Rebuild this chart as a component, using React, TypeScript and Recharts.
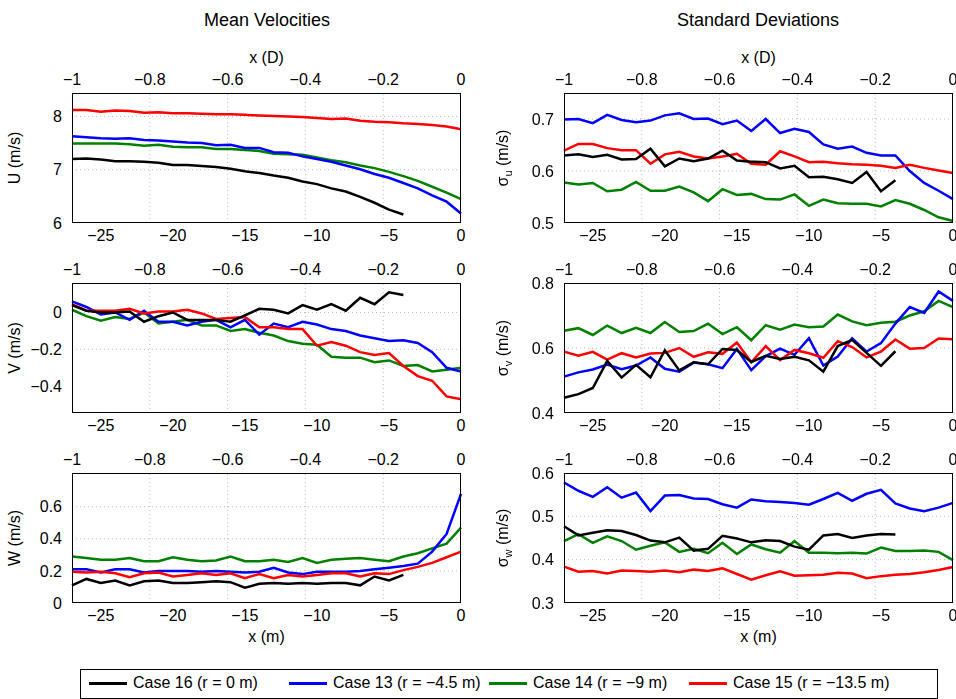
import React from 'react';
import { LineChart, Line, XAxis, YAxis, ReferenceLine } from 'recharts';

// x positions in metres (D = 27 m)
const xs = [-27, -26, -25, -24, -23, -22, -21, -20, -19, -18, -17, -16, -15, -14, -13, -12, -11, -10, -9, -8, -7, -6, -5, -4, -3, -2, -1, 0];
const bottomTicks = [-25, -20, -15, -10, -5, 0];
const topTicks = [-27, -21.6, -16.2, -10.8, -5.4, 0];

const uBlack = [7.2, 7.21, 7.19, 7.16, 7.16, 7.15, 7.13, 7.09, 7.09, 7.07, 7.05, 7.02, 6.97, 6.94, 6.89, 6.85, 6.78, 6.73, 6.65, 6.59, 6.49, 6.38, 6.25, 6.16];
const uBlue = [7.63, 7.61, 7.59, 7.58, 7.59, 7.56, 7.55, 7.53, 7.51, 7.5, 7.46, 7.47, 7.41, 7.41, 7.33, 7.32, 7.25, 7.2, 7.15, 7.08, 7.01, 6.92, 6.85, 6.75, 6.65, 6.52, 6.4, 6.18];
const uGreen = [7.49, 7.49, 7.49, 7.49, 7.48, 7.45, 7.47, 7.43, 7.42, 7.42, 7.39, 7.39, 7.37, 7.35, 7.3, 7.29, 7.28, 7.23, 7.18, 7.14, 7.08, 7.03, 6.96, 6.88, 6.79, 6.68, 6.57, 6.45];
const uRed = [8.12, 8.12, 8.09, 8.11, 8.1, 8.07, 8.08, 8.06, 8.06, 8.05, 8.04, 8.04, 8.03, 8.02, 8.01, 8.0, 7.99, 7.97, 7.95, 7.96, 7.92, 7.9, 7.89, 7.87, 7.86, 7.84, 7.81, 7.76];

const vBlack = [0.04, 0.01, 0.0, 0.0, 0.005, -0.05, -0.02, 0.0, -0.04, -0.04, -0.04, -0.05, -0.015, 0.02, 0.015, -0.005, 0.04, 0.015, 0.045, 0.01, 0.08, 0.045, 0.11, 0.095];
const vBlue = [0.06, 0.03, -0.01, 0.0, -0.04, 0.01, -0.05, -0.05, -0.07, -0.05, -0.04, -0.08, -0.04, -0.12, -0.06, -0.08, -0.05, -0.065, -0.09, -0.1, -0.125, -0.14, -0.155, -0.15, -0.165, -0.215, -0.3, -0.32];
const vGreen = [0.015, -0.02, -0.045, -0.025, -0.035, 0.0, -0.06, -0.05, -0.04, -0.07, -0.07, -0.1, -0.09, -0.11, -0.125, -0.155, -0.17, -0.175, -0.24, -0.245, -0.245, -0.27, -0.26, -0.29, -0.285, -0.32, -0.31, -0.3];
const vRed = [0.045, 0.01, 0.01, 0.01, 0.02, -0.005, 0.005, 0.005, 0.015, -0.005, -0.035, -0.03, -0.025, -0.08, -0.08, -0.09, -0.09, -0.18, -0.16, -0.18, -0.215, -0.23, -0.22, -0.29, -0.345, -0.37, -0.455, -0.47];

const wBlack = [0.11, 0.15, 0.125, 0.14, 0.11, 0.135, 0.14, 0.125, 0.125, 0.13, 0.135, 0.13, 0.095, 0.12, 0.125, 0.12, 0.125, 0.12, 0.125, 0.125, 0.11, 0.165, 0.14, 0.175];
const wBlue = [0.21, 0.21, 0.19, 0.21, 0.21, 0.19, 0.2, 0.2, 0.2, 0.195, 0.2, 0.195, 0.19, 0.195, 0.22, 0.19, 0.18, 0.195, 0.195, 0.195, 0.2, 0.21, 0.22, 0.23, 0.245, 0.32, 0.43, 0.68];
const wGreen = [0.29, 0.28, 0.27, 0.27, 0.28, 0.26, 0.26, 0.285, 0.27, 0.26, 0.265, 0.29, 0.26, 0.26, 0.27, 0.255, 0.28, 0.25, 0.27, 0.275, 0.28, 0.27, 0.26, 0.29, 0.31, 0.34, 0.37, 0.47];
const wRed = [0.195, 0.19, 0.195, 0.185, 0.16, 0.185, 0.19, 0.165, 0.175, 0.185, 0.175, 0.185, 0.155, 0.18, 0.155, 0.175, 0.165, 0.175, 0.185, 0.185, 0.165, 0.185, 0.18, 0.205, 0.225, 0.25, 0.285, 0.32];

const suBlack = [0.63, 0.632, 0.627, 0.631, 0.622, 0.623, 0.643, 0.609, 0.624, 0.619, 0.624, 0.639, 0.62, 0.618, 0.617, 0.605, 0.61, 0.588, 0.589, 0.584, 0.577, 0.598, 0.561, 0.582];
const suBlue = [0.699, 0.7, 0.692, 0.708, 0.698, 0.694, 0.697, 0.707, 0.711, 0.7, 0.701, 0.69, 0.697, 0.677, 0.7, 0.673, 0.681, 0.675, 0.651, 0.643, 0.647, 0.635, 0.63, 0.63, 0.6, 0.577, 0.562, 0.546];
const suGreen = [0.578, 0.574, 0.577, 0.561, 0.564, 0.579, 0.562, 0.562, 0.57, 0.559, 0.542, 0.565, 0.554, 0.556, 0.546, 0.545, 0.555, 0.533, 0.545, 0.538, 0.537, 0.537, 0.532, 0.544, 0.537, 0.525, 0.511, 0.504];
const suRed = [0.639, 0.652, 0.652, 0.644, 0.64, 0.64, 0.614, 0.632, 0.637, 0.628, 0.624, 0.628, 0.633, 0.614, 0.612, 0.638, 0.628, 0.617, 0.618, 0.615, 0.613, 0.612, 0.61, 0.606, 0.612, 0.606, 0.601, 0.596];

const svBlack = [0.447, 0.458, 0.477, 0.56, 0.509, 0.548, 0.51, 0.593, 0.531, 0.556, 0.55, 0.597, 0.594, 0.557, 0.576, 0.566, 0.573, 0.562, 0.527, 0.606, 0.625, 0.585, 0.545, 0.59];
const svBlue = [0.512, 0.525, 0.534, 0.549, 0.535, 0.546, 0.571, 0.536, 0.527, 0.555, 0.55, 0.538, 0.597, 0.532, 0.575, 0.598, 0.579, 0.63, 0.546, 0.574, 0.63, 0.589, 0.615, 0.675, 0.726, 0.708, 0.774, 0.745];
const svGreen = [0.653, 0.661, 0.64, 0.669, 0.646, 0.662, 0.646, 0.68, 0.649, 0.652, 0.675, 0.643, 0.664, 0.624, 0.67, 0.656, 0.672, 0.664, 0.666, 0.703, 0.682, 0.67, 0.678, 0.681, 0.7, 0.713, 0.745, 0.726];
const svRed = [0.589, 0.576, 0.588, 0.564, 0.584, 0.571, 0.583, 0.585, 0.6, 0.573, 0.587, 0.582, 0.617, 0.556, 0.606, 0.563, 0.594, 0.584, 0.57, 0.621, 0.603, 0.571, 0.589, 0.626, 0.598, 0.6, 0.629, 0.627];

const swBlack = [0.477, 0.456, 0.462, 0.468, 0.466, 0.457, 0.444, 0.44, 0.451, 0.421, 0.425, 0.455, 0.449, 0.44, 0.445, 0.443, 0.43, 0.423, 0.456, 0.459, 0.45, 0.456, 0.459, 0.458];
const swBlue = [0.578, 0.559, 0.545, 0.567, 0.543, 0.555, 0.512, 0.548, 0.549, 0.541, 0.54, 0.528, 0.52, 0.539, 0.535, 0.533, 0.531, 0.527, 0.54, 0.554, 0.536, 0.552, 0.561, 0.53, 0.518, 0.512, 0.52, 0.531];
const swGreen = [0.443, 0.459, 0.439, 0.454, 0.443, 0.423, 0.432, 0.44, 0.418, 0.425, 0.415, 0.439, 0.413, 0.435, 0.424, 0.416, 0.443, 0.416, 0.416, 0.415, 0.416, 0.414, 0.428, 0.42, 0.42, 0.421, 0.418, 0.399];
const swRed = [0.384, 0.372, 0.374, 0.368, 0.375, 0.374, 0.372, 0.375, 0.371, 0.377, 0.374, 0.38, 0.367, 0.354, 0.364, 0.373, 0.363, 0.364, 0.365, 0.37, 0.368, 0.357, 0.362, 0.365, 0.367, 0.371, 0.376, 0.383];

const seriesNames = ['Case 16 (r = 0 m)', 'Case 13 (r = \u22124.5 m)', 'Case 14 (r = \u22129 m)', 'Case 15 (r = \u221213.5 m)'];
const colors = ['#000000', '#0000ff', '#008000', '#ff0000'];

const FONT = '"Liberation Sans", Arial, sans-serif';
const fmt = (v: number) => String(Math.round(v * 100) / 100).replace('-', '\u2212');
const fmtTop = (v: number) => fmt(Math.round((v / 27) * 10) / 10);

const build = (b: number[], bl: number[], g: number[], r: number[]) =>
  xs.map((x, i) => ({ x, black: b[i], blue: bl[i], green: g[i], red: r[i] }));

const PLOT_W = 389;
const PLOT_H = 130;
const tickStyle = { fill: '#000', fontSize: 16, fontFamily: FONT };

interface PanelProps {
  left: number;
  top: number;
  data: ReturnType<typeof build>;
  domain: [number, number];
  yTicks: number[];
}

const Panel = ({ left, top, data, domain, yTicks }: PanelProps) => (
  <>
    <div style={{ position: 'absolute', left: left - 80, top: top - 40 }}>
      <LineChart width={PLOT_W + 90} height={PLOT_H + 70} data={data} margin={{ top: 0, right: 10, bottom: 0, left: 0 }}>
        <XAxis dataKey="x" type="number" domain={[-27, 0]} ticks={bottomTicks} tickFormatter={fmt} height={30}
          tickLine={false} axisLine={false} tick={tickStyle} tickMargin={1} />
        <XAxis xAxisId="top" orientation="top" dataKey="x" type="number" domain={[-27, 0]} ticks={topTicks} tickFormatter={fmtTop}
          height={40} tickLine={false} axisLine={false} tick={tickStyle} tickMargin={2} />
        <YAxis type="number" domain={domain} ticks={yTicks} tickFormatter={fmt} width={80} allowDataOverflow
          tickLine={false} axisLine={false} tick={tickStyle} tickMargin={4} />
        {topTicks.slice(1, -1).map((t) => (
          <ReferenceLine key={'v' + t} x={t} stroke="#bbb" strokeDasharray="1 3" />
        ))}
        {yTicks.slice(1).filter((t) => t < domain[1]).map((t) => (
          <ReferenceLine key={'h' + t} y={t} stroke="#bbb" strokeDasharray="1 3" />
        ))}
        {['green', 'blue', 'red', 'black'].map((k) => (
          <Line key={k} dataKey={k} type="linear" dot={false} strokeWidth={2.5}
            stroke={colors[['black', 'blue', 'green', 'red'].indexOf(k)]} isAnimationActive={false} connectNulls={false} />
        ))}
      </LineChart>
    </div>
    <div style={{ position: 'absolute', left, top, width: PLOT_W, height: PLOT_H, border: '1px solid #000', boxSizing: 'border-box', pointerEvents: 'none' }} />
  </>
);

const YLabel = ({ x, y, children }: { x: number; y: number; children: React.ReactNode }) => (
  <div style={{ position: 'absolute', left: x, top: y, transform: 'translate(-50%, -50%) rotate(-90deg)', whiteSpace: 'nowrap', fontSize: 16 }}>
    {children}
  </div>
);

const Centered = ({ x, y, size = 16, children }: { x: number; y: number; size?: number; children: React.ReactNode }) => (
  <div style={{ position: 'absolute', left: x, top: y, transform: 'translate(-50%, -50%)', whiteSpace: 'nowrap', fontSize: size }}>
    {children}
  </div>
);

const rows = [93, 283, 473];
const LX = 72;
const RX = 564;

export default function App() {
  return (
    <div style={{ position: 'fixed', left: 0, top: 0, width: 956, height: 699, background: '#fff', fontFamily: FONT, color: '#000' }}>
      <Centered x={267} y={20} size={18}>Mean Velocities</Centered>
      <Centered x={758} y={20} size={18}>Standard Deviations</Centered>
      <Centered x={LX + PLOT_W / 2} y={58}>x (D)</Centered>
      <Centered x={RX + PLOT_W / 2} y={58}>x (D)</Centered>
      <Centered x={LX + PLOT_W / 2} y={637}>x (m)</Centered>
      <Centered x={RX + PLOT_W / 2} y={637}>x (m)</Centered>

      <Panel left={LX} top={rows[0]} data={build(uBlack, uBlue, uGreen, uRed)} domain={[6, 8.44]} yTicks={[6, 7, 8]} />
      <Panel left={LX} top={rows[1]} data={build(vBlack, vBlue, vGreen, vRed)} domain={[-0.545, 0.16]} yTicks={[-0.4, -0.2, 0]} />
      <Panel left={LX} top={rows[2]} data={build(wBlack, wBlue, wGreen, wRed)} domain={[0, 0.81]} yTicks={[0, 0.2, 0.4, 0.6]} />
      <Panel left={RX} top={rows[0]} data={build(suBlack, suBlue, suGreen, suRed)} domain={[0.5, 0.75]} yTicks={[0.5, 0.6, 0.7]} />
      <Panel left={RX} top={rows[1]} data={build(svBlack, svBlue, svGreen, svRed)} domain={[0.4, 0.8]} yTicks={[0.4, 0.6, 0.8]} />
      <Panel left={RX} top={rows[2]} data={build(swBlack, swBlue, swGreen, swRed)} domain={[0.3, 0.6]} yTicks={[0.3, 0.4, 0.5, 0.6]} />

      <YLabel x={15} y={rows[0] + PLOT_H / 2}>U (m/s)</YLabel>
      <YLabel x={15} y={rows[1] + PLOT_H / 2}>V (m/s)</YLabel>
      <YLabel x={15} y={rows[2] + PLOT_H / 2}>W (m/s)</YLabel>
      <YLabel x={504} y={rows[0] + PLOT_H / 2}>σ<sub style={{ fontSize: 11 }}>u</sub> (m/s)</YLabel>
      <YLabel x={504} y={rows[1] + PLOT_H / 2}>σ<sub style={{ fontSize: 11 }}>v</sub> (m/s)</YLabel>
      <YLabel x={504} y={rows[2] + PLOT_H / 2}>σ<sub style={{ fontSize: 11 }}>w</sub> (m/s)</YLabel>

      <div style={{ position: 'absolute', left: 80, top: 669, width: 858, height: 30, border: '1px solid #000', boxSizing: 'border-box', fontSize: 16 }}>
        {seriesNames.map((n, i) => (
          <div key={n} style={{ position: 'absolute', left: 8 + i * 200, top: 4, display: 'flex', alignItems: 'center', whiteSpace: 'nowrap' }}>
            <span style={{ display: 'inline-block', width: 38, height: 3, background: colors[i], marginRight: 6 }} />
            {n}
          </div>
        ))}
      </div>
    </div>
  );
}
